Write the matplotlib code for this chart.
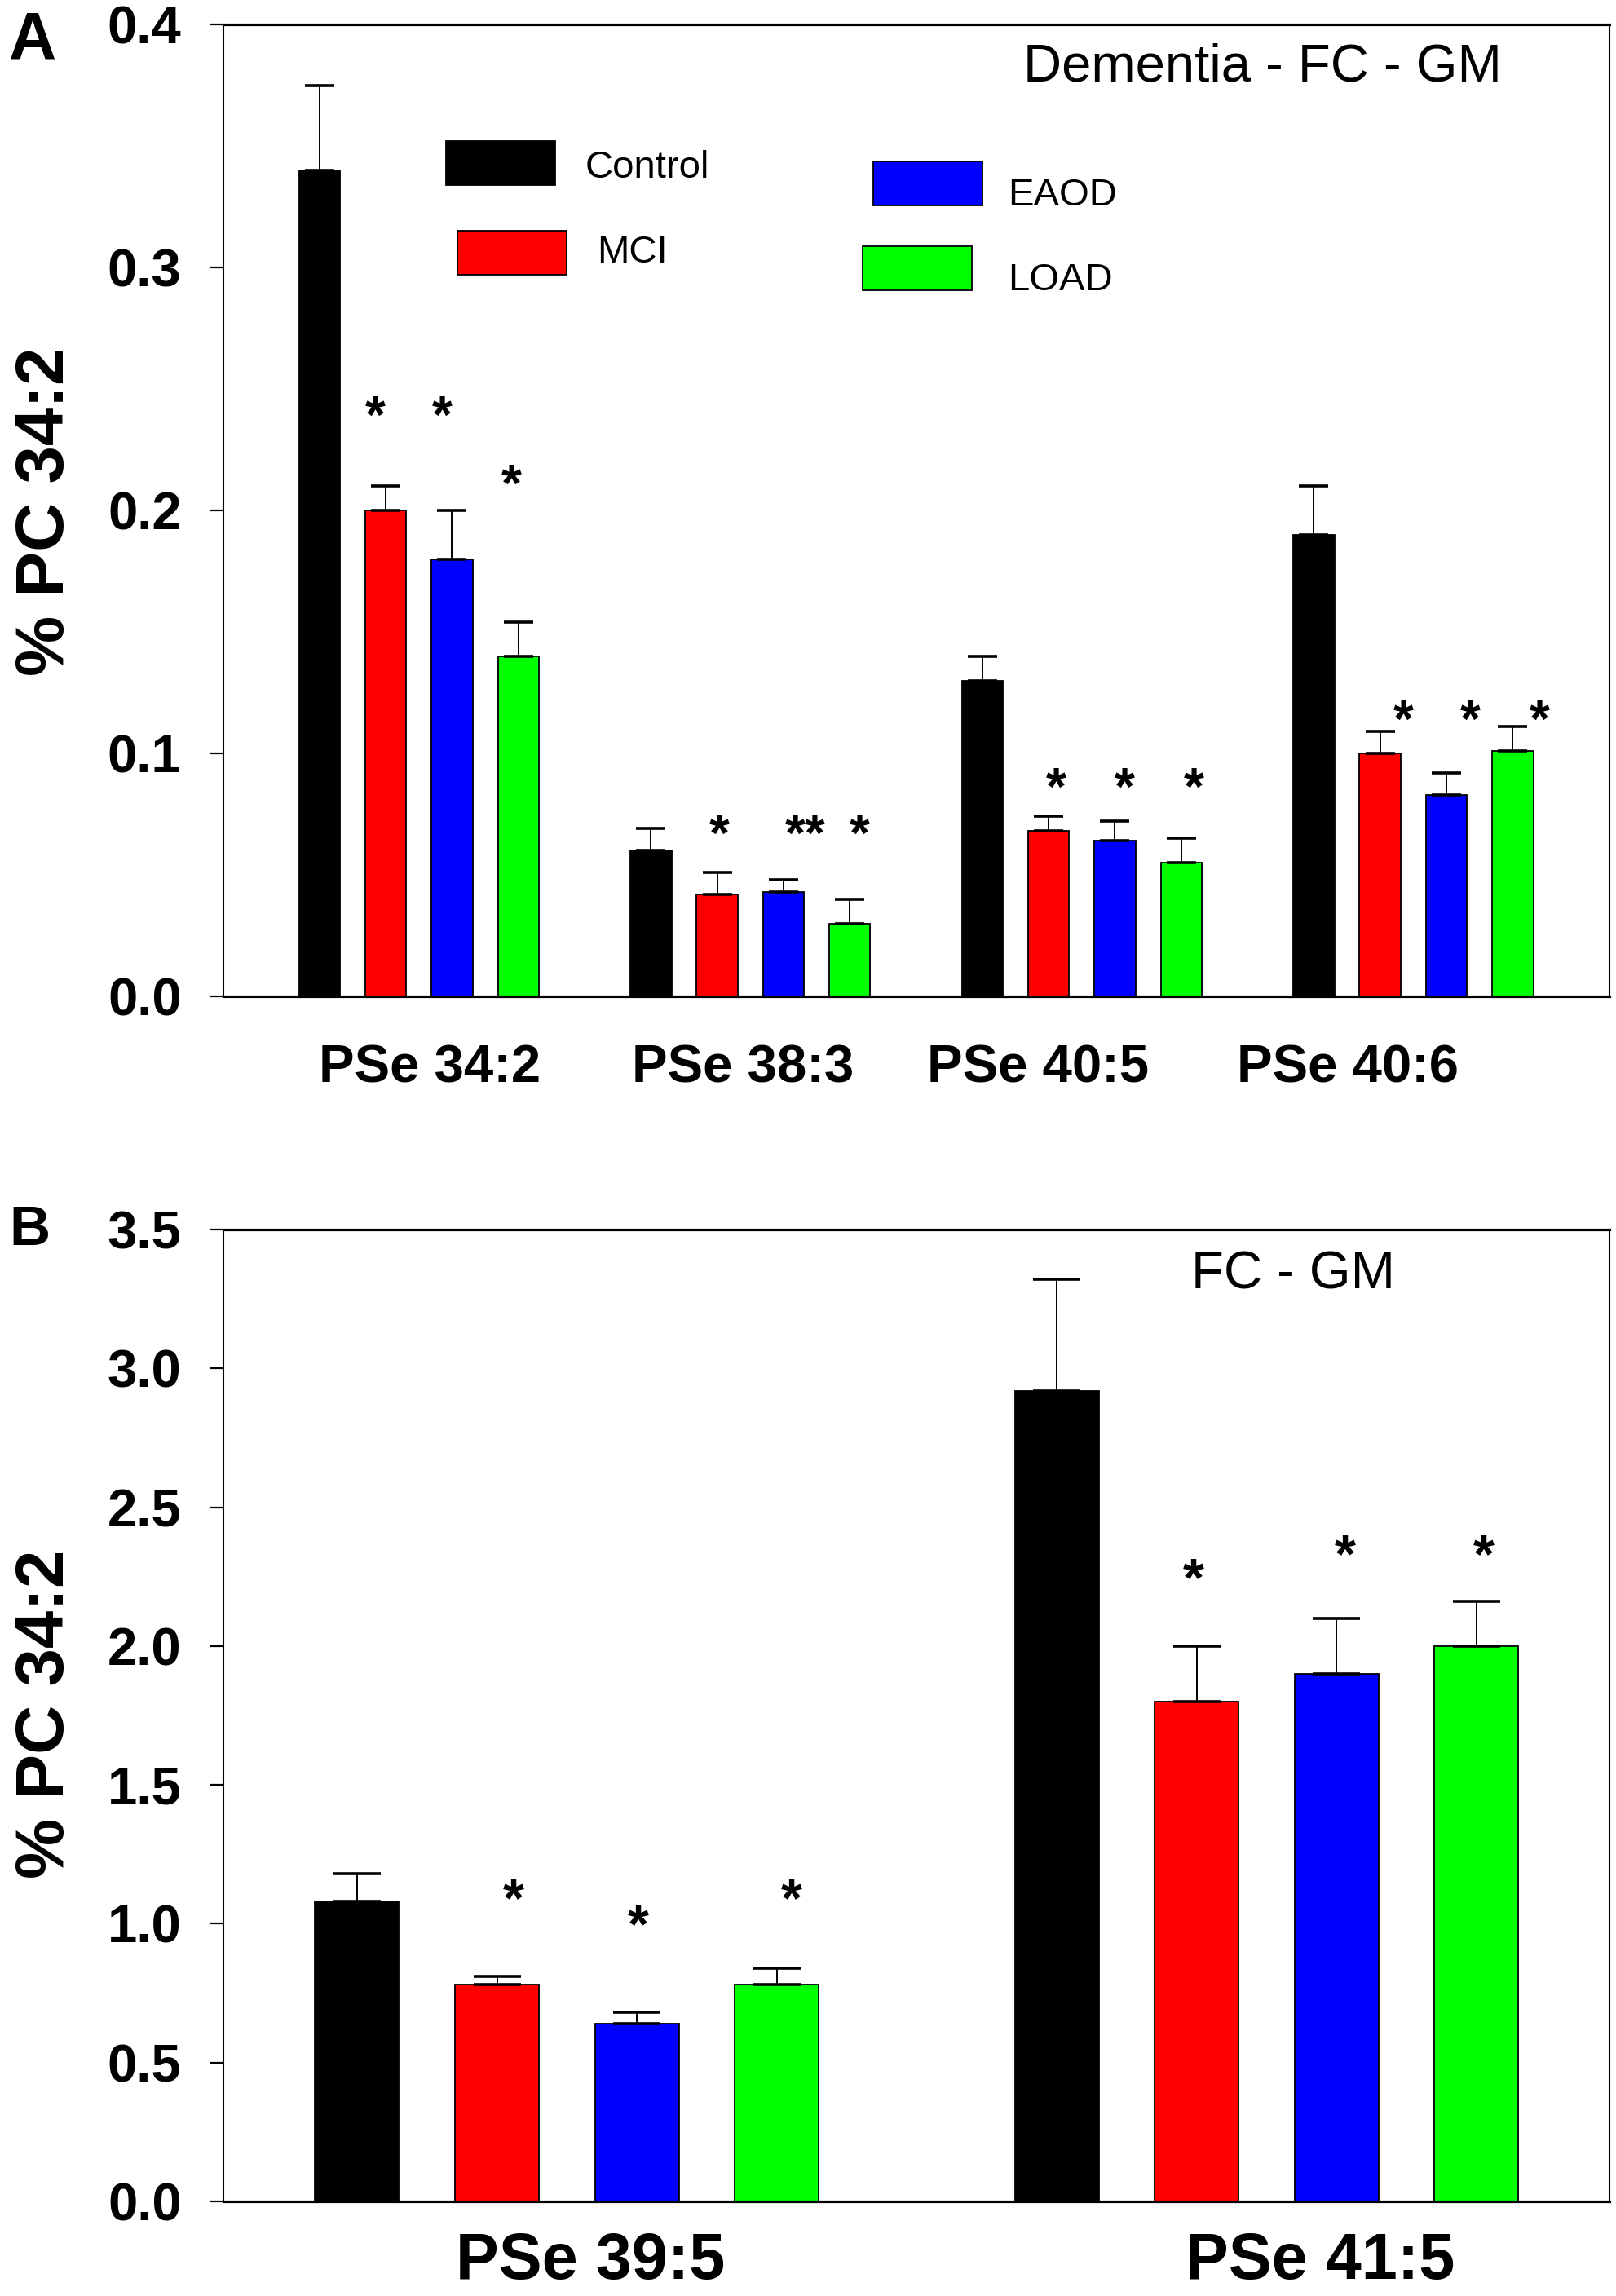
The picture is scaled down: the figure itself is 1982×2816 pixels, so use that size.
import numpy as np
import matplotlib
matplotlib.use("Agg")
import matplotlib.pyplot as plt
from matplotlib.patches import Rectangle

plt.rcParams['font.family'] = ['Liberation Sans', 'DejaVu Sans']

# ---------------- data ----------------
groups = ["Control", "MCI", "EAOD", "LOAD"]
colors = ["#000000", "#FF0000", "#0000FF", "#00FF00"]

# Panel A
a_species = ["PSe 34:2", "PSe 38:3", "PSe 40:5", "PSe 40:6"]
a_control = [0.340, 0.060, 0.130, 0.190]
a_control_err = [0.035, 0.009, 0.010, 0.020]
a_mci = [0.200, 0.042, 0.068, 0.100]
a_mci_err = [0.010, 0.009, 0.006, 0.009]
a_eaod = [0.180, 0.043, 0.064, 0.083]
a_eaod_err = [0.020, 0.005, 0.008, 0.009]
a_load = [0.140, 0.030, 0.055, 0.101]
a_load_err = [0.014, 0.010, 0.010, 0.010]
# significance marks (MCI, EAOD, LOAD) per species and their heights
a_stars = [["*", "*", "*"], ["*", "**", "*"], ["*", "*", "*"], ["*", "*", "*"]]
a_star_y = [[0.244, 0.244, 0.216], [0.072, 0.072, 0.072],
            [0.091, 0.091, 0.091], [0.119, 0.119, 0.119]]

# Panel B
b_species = ["PSe 39:5", "PSe 41:5"]
b_control = [1.08, 2.92]
b_control_err = [0.10, 0.40]
b_mci = [0.78, 1.80]
b_mci_err = [0.03, 0.20]
b_eaod = [0.64, 1.90]
b_eaod_err = [0.04, 0.20]
b_load = [0.78, 2.00]
b_load_err = [0.06, 0.16]
b_stars = [["*", "*", "*"], ["*", "*", "*"]]
b_star_y = [[1.139, 1.045, 1.139], [2.293, 2.378, 2.378]]

# ---------------- layout ----------------
W, H = 1983, 2816
fig = plt.figure(figsize=(W / 100, H / 100), dpi=100)

def ax_rect(left, right, top, bottom):
    return [left / W, 1 - bottom / H, (right - left) / W, (bottom - top) / H]

axA = fig.add_axes(ax_rect(274, 1974, 30, 1222))
axB = fig.add_axes(ax_rect(274, 1974, 1508, 2700))

offsets = [-0.3, -0.1, 0.1, 0.3]
bar_w = 0.124


def style_axes(ax):
    for s in ["left", "right"]:
        ax.spines[s].set_linewidth(1.5)
    for s in ["top", "bottom"]:
        ax.spines[s].set_linewidth(2.3)
    ax.tick_params(axis="y", direction="out", length=12, width=1.6,
                   pad=25, labelsize=47)
    ax.tick_params(axis="x", length=0)
    for lab in ax.get_yticklabels():
        lab.set_fontweight("bold")


def draw_panel(ax, series, errs, capsize, bw, star_fs, stars, star_y, star_dx):
    n = len(series[0])
    x = np.arange(n)
    for k, (vals, err) in enumerate(zip(series, errs)):
        xs = x + offsets[k]
        ax.bar(xs, vals, width=bw, color=colors[k], edgecolor="black",
               linewidth=1.3, zorder=2)
        ax.errorbar(xs, vals, yerr=[np.zeros(n), err], fmt="none",
                    ecolor="black", elinewidth=1.4, capsize=capsize,
                    capthick=2.6, zorder=3)
    for i in range(n):
        for j in range(3):
            ax.annotate(stars[i][j], xy=(i + offsets[j + 1] + star_dx[i][j], star_y[i][j]),
                        xytext=(0, -0.57 * star_fs), textcoords="offset points",
                        ha="center", va="baseline", fontsize=star_fs,
                        fontweight="bold", zorder=4)


# ---- Panel A ----
a_dx = [[-0.032, -0.030, -0.022], [0.007, 0.066, 0.030],
        [0.022, 0.030, 0.037], [0.071, 0.071, 0.081]]
draw_panel(axA, [a_control, a_mci, a_eaod, a_load],
           [a_control_err, a_mci_err, a_eaod_err, a_load_err],
           13, bar_w, 46, a_stars, a_star_y, a_dx)
axA.set_xlim(-0.590, 3.592)
axA.set_ylim(0, 0.4)
axA.set_yticks(np.arange(0, 0.41, 0.1))
axA.set_yticklabels([f"{v:.1f}" for v in np.arange(0, 0.41, 0.1)])
axA.set_xticks([0.032, 0.977, 1.867, 2.802])
axA.set_xticklabels(a_species, fontsize=47, fontweight="bold")
style_axes(axA)
axA.tick_params(axis="x", pad=42)

axA.text(0.7494, 0.9413, "Dementia - FC - GM", transform=axA.transAxes,
         ha="center", va="baseline", fontsize=47)

# legend (manual layout as in the original figure)
leg_items = [
    (0, 0.1606, 0.8347, 0.2612, 0.8423),
    (1, 0.1688, 0.7424, 0.2694, 0.7550),
    (2, 0.4688, 0.8138, 0.5659, 0.8138),
    (3, 0.4612, 0.7265, 0.5659, 0.7265),
]
for k, px, py, tx, ty in leg_items:
    axA.add_patch(Rectangle((px, py), 0.0788, 0.0453, transform=axA.transAxes,
                            facecolor=colors[k], edgecolor="black",
                            linewidth=1.3, zorder=5))
    axA.text(tx, ty, groups[k], transform=axA.transAxes, ha="left",
             va="baseline", fontsize=34, zorder=5)

# ---- Panel B ----
b_dx = [[0.023, 0.002, 0.021], [-0.005, 0.012, 0.010]]
draw_panel(axB, [b_control, b_mci, b_eaod, b_load],
           [b_control_err, b_mci_err, b_eaod_err, b_load_err],
           21, 0.12, 48, b_stars, b_star_y, b_dx)
axB.set_xlim(-0.491, 1.490)
axB.set_ylim(0, 3.5)
yt = np.arange(0, 3.51, 0.5)
axB.set_yticks(yt)
axB.set_yticklabels([f"{v:.1f}" for v in yt])
axB.set_xticks([0.034, 1.076])
axB.set_xticklabels(b_species, fontsize=57, fontweight="bold")
style_axes(axB)
axB.tick_params(axis="x", pad=27)

axB.text(0.7718, 0.9388, "FC - GM", transform=axB.transAxes,
         ha="center", va="baseline", fontsize=47)

# y labels and panel letters
for yc in (627, 2102):
    fig.text(78 / W, 1 - yc / H, "% PC 34:2", rotation=90,
             rotation_mode="anchor", ha="center", va="baseline",
             fontsize=60, fontweight="bold")
fig.text(11 / W, 1 - 71 / H, "A", ha="left", va="baseline",
         fontsize=58, fontweight="bold")
fig.text(11 / W, 1 - 1527 / H, "B", ha="left", va="baseline",
         fontsize=50, fontweight="bold")

fig.savefig("out.png", dpi=100)
